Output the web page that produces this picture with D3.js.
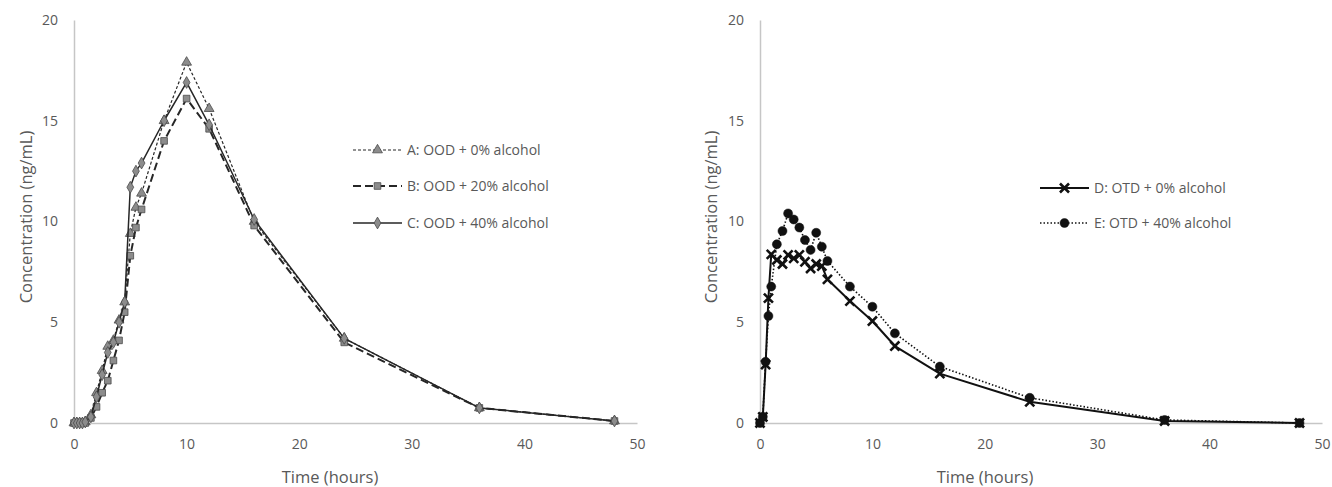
<!DOCTYPE html>
<html>
<head>
<meta charset="utf-8">
<script src="https://cdn.jsdelivr.net/npm/d3@7/dist/d3.min.js"></script>
<style>
  html, body { margin: 0; padding: 0; background: #fff; }
  svg { display: block; }
  text { font-family: "Open Sans", sans-serif; fill: #595959; }
</style>
</head>
<body>
<svg id="chart" width="1332" height="487"></svg>
<script>
// ---------- DATA ----------
const timesLeft  = [0, 0.25, 0.5, 0.75, 1, 1.5, 2, 2.5, 3, 3.5, 4, 4.5, 5, 5.5, 6, 8, 10, 12, 16, 24, 36, 48];
const seriesA    = [0, 0, 0, 0, 0.05, 0.4, 1.5, 2.6, 3.8, 4.1, 5.1, 6.0, 9.4, 10.7, 11.4, 15.0, 17.9, 15.6, 10.0, 4.2, 0.75, 0.1];
const seriesB    = [0, 0, 0, 0, 0, 0.25, 0.8, 1.5, 2.1, 3.1, 4.1, 5.5, 8.3, 9.7, 10.6, 14.0, 16.1, 14.6, 9.8, 4.0, 0.75, 0.1];
const seriesC    = [0, 0, 0, 0, 0.05, 0.3, 1.3, 2.4, 3.5, 4.0, 5.0, 6.0, 11.7, 12.5, 12.9, 15.0, 16.9, 14.8, 10.1, 4.2, 0.75, 0.1];

const timesRight = [0, 0.25, 0.5, 0.75, 1, 1.5, 2, 2.5, 3, 3.5, 4, 4.5, 5, 5.5, 6, 8, 10, 12, 16, 24, 36, 48];
const seriesD    = [0, 0.3, 2.9, 6.2, 8.37, 8.09, 7.89, 8.34, 8.17, 8.34, 8.0, 7.67, 7.89, 7.79, 7.13, 6.05, 5.06, 3.82, 2.45, 1.05, 0.1, 0.0];
const seriesE    = [0, 0.31, 3.04, 5.31, 6.77, 8.87, 9.53, 10.4, 10.1, 9.7, 9.08, 8.59, 9.44, 8.75, 8.04, 6.77, 5.77, 4.45, 2.8, 1.25, 0.15, 0.0];

const labelsLeft  = ["A: OOD + 0% alcohol", "B: OOD + 20% alcohol", "C: OOD + 40% alcohol"];
const labelsRight = ["D: OTD + 0% alcohol", "E: OTD + 40% alcohol"];

const xTicks = [0, 10, 20, 30, 40, 50];
const yTicks = [0, 5, 10, 15, 20];
const xTitle = "Time (hours)";
const yTitle = "Concentration (ng/mL)";

// ---------- STYLES ----------
const styles = {
  A: { symbol: d3.symbolTriangle, size: 42, fill: "#8c8c8c", mstroke: "#4a4a4a", mwidth: 0.8, line: "#262626", width: 1.2, dash: "3,2" },
  B: { symbol: d3.symbolSquare,   size: 44, fill: "#8c8c8c", mstroke: "#4a4a4a", mwidth: 0.8, line: "#262626", width: 2,   dash: "8,4" },
  C: { symbol: d3.symbolDiamond,  size: 40, fill: "#8c8c8c", mstroke: "#4a4a4a", mwidth: 0.8, line: "#262626", width: 1.5, dash: null },
  D: { symbol: d3.symbolTimes,    size: 55, fill: "none",    mstroke: "#111",    mwidth: 2.6, line: "#111",    width: 2,   dash: null },
  E: { symbol: d3.symbolCircle,   size: 64, fill: "#111",    mstroke: "#111",    mwidth: 0.5, line: "#111",    width: 1.6, dash: "1.5,2" }
};

const svg = d3.select("#chart");

function panel(cfg) {
  const x = d3.scaleLinear().domain([0, 50]).range(cfg.xRange);
  const y = d3.scaleLinear().domain([0, 20]).range([423, 20]);
  const g = svg.append("g");

  // axes
  const xAxis = d3.axisBottom(x).tickValues(xTicks).tickSize(0).tickSizeOuter(0).tickPadding(16);
  const gx = g.append("g").attr("transform", `translate(0,${y(0)})`).call(xAxis);
  const yAxis = d3.axisLeft(y).tickValues(yTicks).tickSize(0).tickSizeOuter(0).tickPadding(16);
  const gy = g.append("g").attr("transform", `translate(${x(0)},0)`).call(yAxis);
  [gx, gy].forEach(a => {
    a.select(".domain").attr("stroke", "#c6c6c6").attr("stroke-width", 1.5);
    a.selectAll("text").attr("font-size", 14).attr("fill", "#595959").attr("font-family", "Open Sans, sans-serif");
  });

  // titles
  g.append("text").attr("x", cfg.xTitleX).attr("y", 483).attr("text-anchor", "middle")
    .attr("font-size", 16.5).text(xTitle);
  g.append("text").attr("transform", `translate(${cfg.yTitleX},217) rotate(-90)`)
    .attr("text-anchor", "middle").attr("font-size", 16.5).text(yTitle);

  // series
  const line = d3.line().x(d => x(d[0])).y(d => y(d[1]));
  cfg.series.forEach(s => {
    const st = styles[s.key];
    const pts = cfg.times.map((t, i) => [t, s.values[i]]);
    g.append("path").datum(pts).attr("d", line).attr("fill", "none")
      .attr("stroke", st.line).attr("stroke-width", st.width)
      .attr("stroke-dasharray", st.dash).attr("stroke-linejoin", "round");
    g.selectAll(null).data(pts).enter().append("path")
      .attr("transform", d => `translate(${x(d[0])},${y(d[1])})`)
      .attr("d", d3.symbol().type(st.symbol).size(st.size))
      .attr("fill", st.fill).attr("stroke", st.mstroke).attr("stroke-width", st.mwidth);
  });

  // legend
  cfg.series.forEach((s, i) => {
    const st = styles[s.key];
    const ly = cfg.legendY[i];
    const lg = g.append("g");
    lg.append("line").attr("x1", cfg.legendX).attr("x2", cfg.legendX + 49)
      .attr("y1", ly).attr("y2", ly).attr("stroke", st.line).attr("stroke-width", st.width)
      .attr("stroke-dasharray", st.dash);
    lg.append("path").attr("transform", `translate(${cfg.legendX + 24.5},${ly})`)
      .attr("d", d3.symbol().type(st.symbol).size(st.size))
      .attr("fill", st.fill).attr("stroke", st.mstroke).attr("stroke-width", st.mwidth);
    lg.append("text").attr("x", cfg.legendX + 54).attr("y", ly).attr("dy", "0.35em")
      .attr("font-size", 14).text(s.label);
  });
}

panel({
  xRange: [74, 637], xTitleX: 330, yTitleX: 32,
  times: timesLeft,
  series: [
    { key: "A", values: seriesA, label: labelsLeft[0] },
    { key: "B", values: seriesB, label: labelsLeft[1] },
    { key: "C", values: seriesC, label: labelsLeft[2] }
  ],
  legendX: 353, legendY: [150, 186, 223]
});

panel({
  xRange: [760, 1322], xTitleX: 985, yTitleX: 717,
  times: timesRight,
  series: [
    { key: "D", values: seriesD, label: labelsRight[0] },
    { key: "E", values: seriesE, label: labelsRight[1] }
  ],
  legendX: 1040, legendY: [188, 223]
});
</script>
</body>
</html>
